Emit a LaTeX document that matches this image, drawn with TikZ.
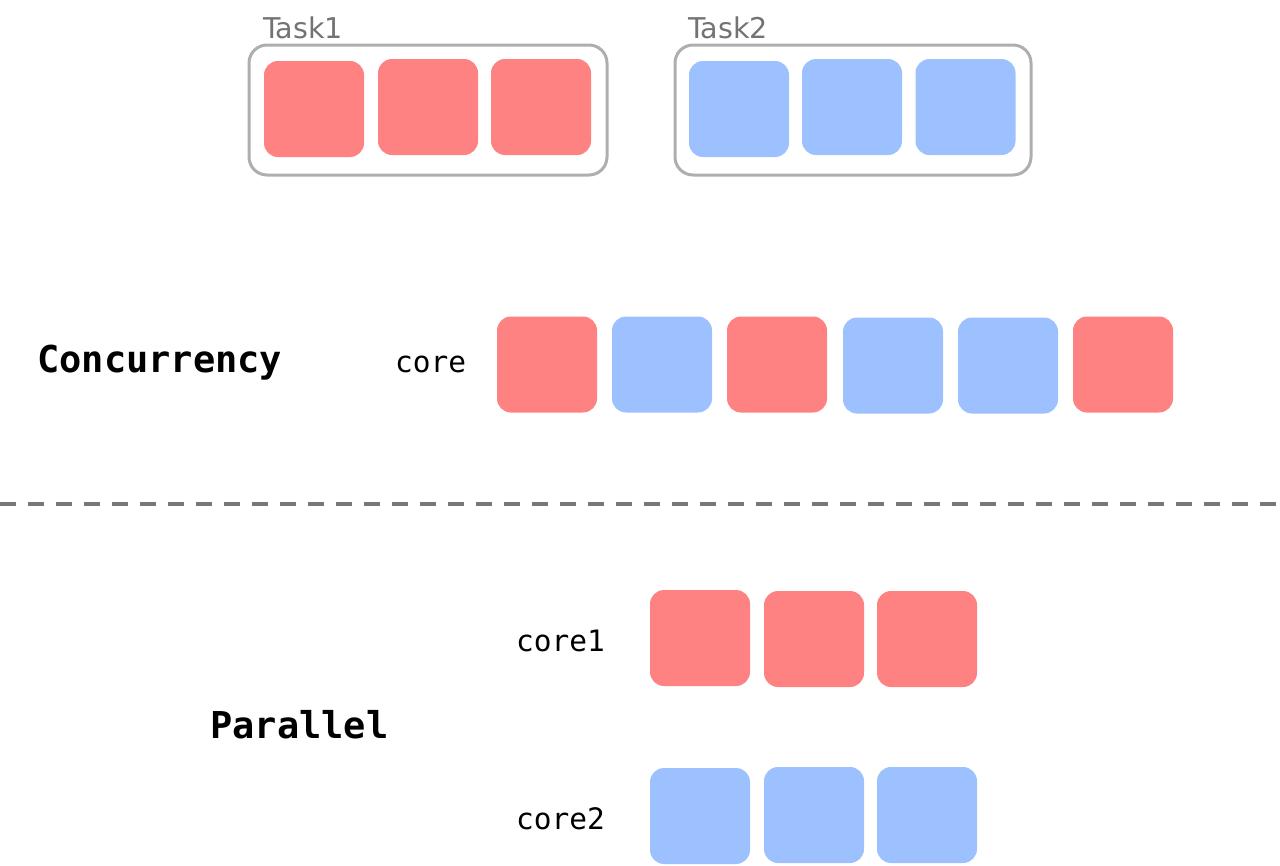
\documentclass[tikz,border=0pt]{standalone}
\usepackage{fontspec}
\setmonofont{DejaVu Sans Mono}
\newfontfamily\tasklabelfont{DejaVu Sans}
\definecolor{redbox}{HTML}{FF8282}
\definecolor{bluebox}{HTML}{9DC1FF}
\definecolor{frame}{HTML}{AEAEAE}
\definecolor{labelgray}{HTML}{737373}
\definecolor{dashgray}{HTML}{777777}
\begin{document}
\begin{tikzpicture}[x=1pt,y=-1pt,
  blk/.style={draw=none, rounded corners=14pt, minimum width=100pt, minimum height=96pt, inner sep=0pt},
  rb/.style={blk, fill=redbox},
  bb/.style={blk, fill=bluebox},
  grp/.style={draw=frame, line width=3pt, rounded corners=18pt},
  tasklbl/.style={anchor=base west, inner sep=0pt, text=labelgray, font=\tasklabelfont\fontsize{28.6}{30}\selectfont},
  bigl/.style={anchor=base west, inner sep=0pt, font=\ttfamily\bfseries\fontsize{37}{40}\selectfont},
  corel/.style={anchor=base west, inner sep=0pt, font=\ttfamily\fontsize{29.5}{32}\selectfont}]
\useasboundingbox (0,0) rectangle (1280,865);
% groups
\draw[grp] (249,45) rectangle (607,175);
\draw[grp] (675,45) rectangle (1031,175);
\node[tasklbl] (t1) at (263,38) {Task1};
\node[tasklbl] (t2) at (688,38) {Task2};
\node[rb] (a1) at (314,109) {};
\node[rb] (a2) at (428,107) {};
\node[rb] (a3) at (541,107) {};
\node[bb] (b1) at (739,109) {};
\node[bb] (b2) at (852,107) {};
\node[bb] (b3) at (965.5,107) {};
% concurrency
\node[bigl] (conc) at (37,372) {Concurrency};
\node[corel] (core) at (395,372) {core};
\node[rb] (c1) at (547,364.5) {};
\node[bb] (c2) at (662,364.5) {};
\node[rb] (c3) at (777,364.5) {};
\node[bb] (c4) at (893,365.5) {};
\node[bb] (c5) at (1008,365.5) {};
\node[rb] (c6) at (1123,364.5) {};
% divider
\coordinate (dl) at (0,504);
\coordinate (dr) at (1280,504);
\draw[dashgray, line width=4pt, dash pattern=on 16pt off 12pt] (dl) -- (dr);
% parallel
\node[bigl] (par) at (210,738) {Parallel};
\node[corel] (core1) at (516,651) {core1};
\node[corel] (core2) at (516,829) {core2};
\node[rb] (p1) at (700,638) {};
\node[rb] (p2) at (814,639) {};
\node[rb] (p3) at (927,639) {};
\node[bb] (q1) at (700,816) {};
\node[bb] (q2) at (814,815) {};
\node[bb] (q3) at (927,815) {};
\end{tikzpicture}
\end{document}
